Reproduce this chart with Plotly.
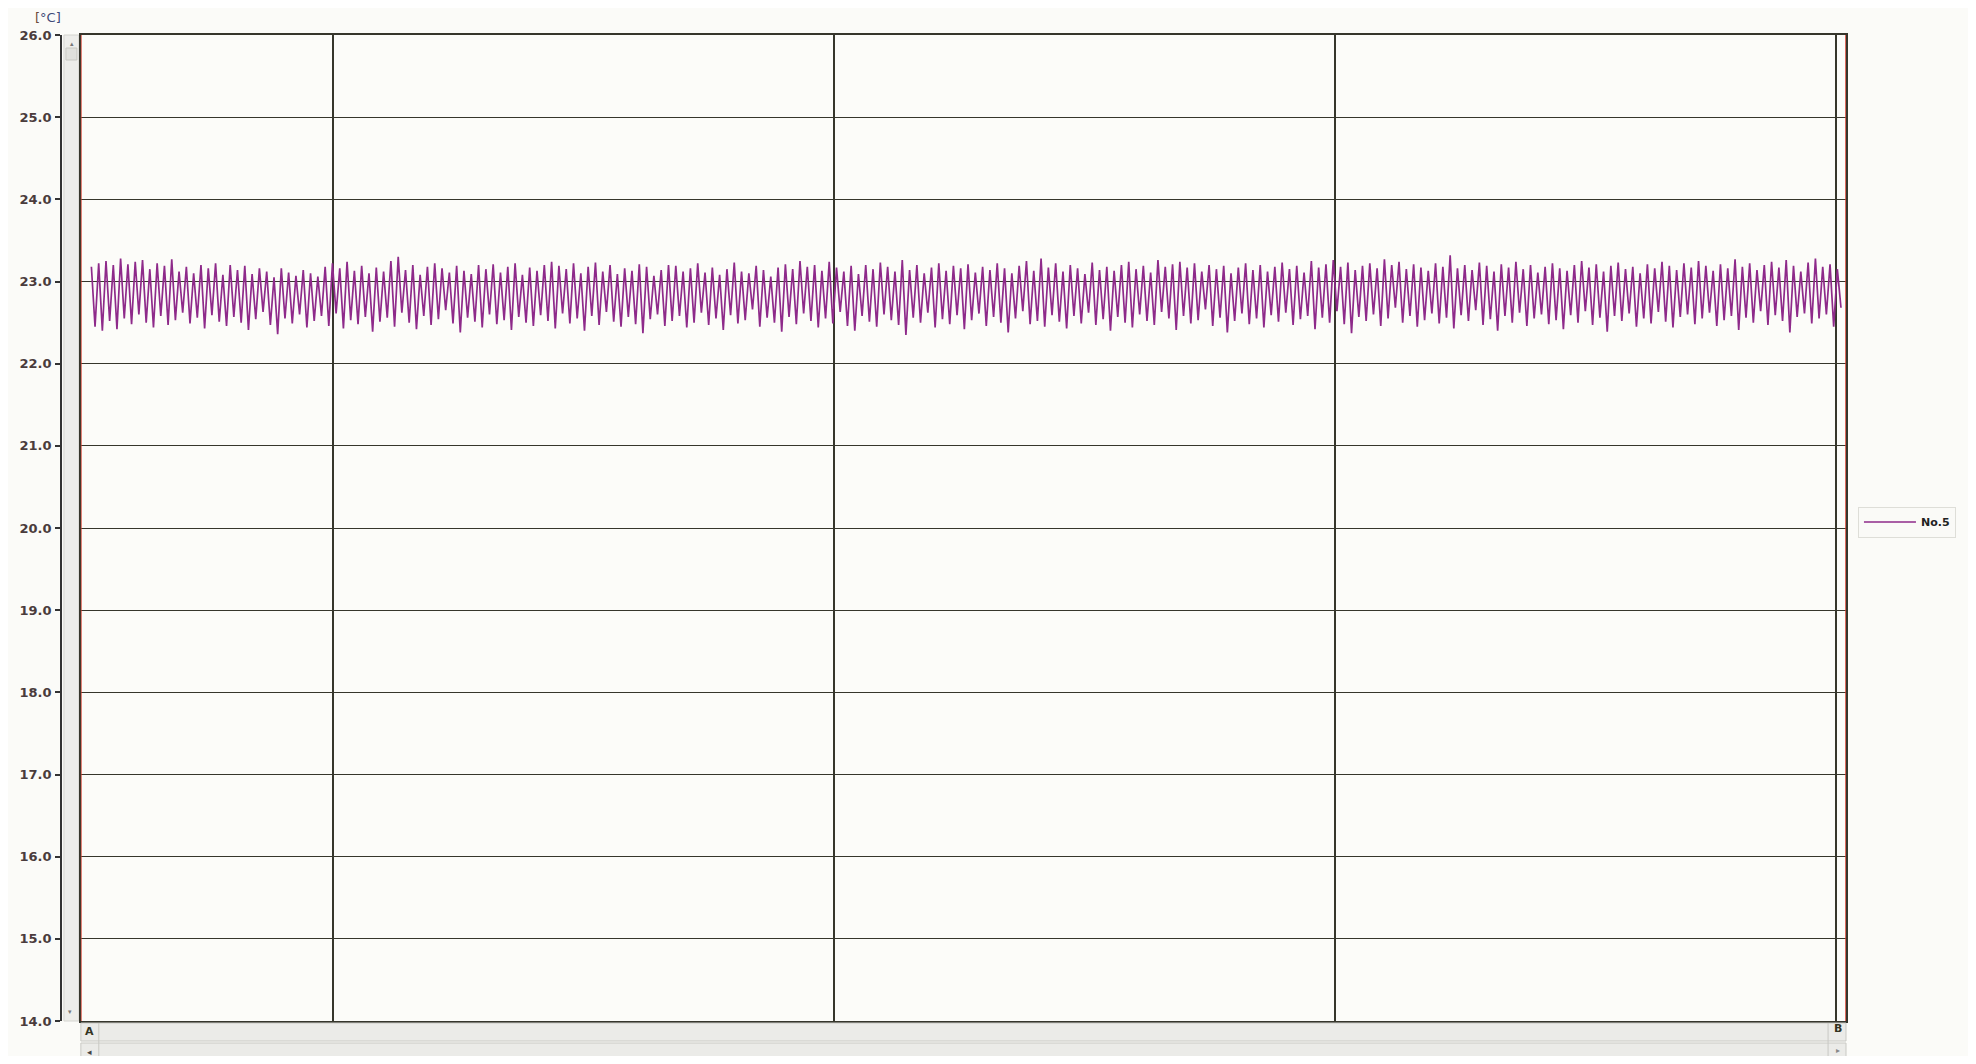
import plotly.graph_objects as go

# ---------------- data ----------------
y_ticks = [14.0, 15.0, 16.0, 17.0, 18.0, 19.0, 20.0, 21.0, 22.0, 23.0, 24.0, 25.0, 26.0]
x_grid = [0.5, 1.5, 2.5, 3.5]
cursor_A = -0.004
cursor_B = 3.52
series_name = "No.5"
unit_label = "[°C]"

peaks = [
    23.18, 23.22, 23.25, 23.20, 23.28, 23.21, 23.24, 23.26, 23.15, 23.22, 23.19, 23.27, 23.12, 23.18, 23.10, 23.20, 23.16, 23.22, 23.08, 23.20,
    23.14, 23.19, 23.09, 23.16, 23.12, 23.05, 23.16, 23.11, 23.07, 23.14, 23.10, 23.06, 23.18, 23.22, 23.16, 23.24, 23.13, 23.19, 23.10, 23.17,
    23.12, 23.25, 23.30, 23.14, 23.20, 23.08, 23.18, 23.22, 23.16, 23.11, 23.19, 23.13, 23.09, 23.20, 23.15, 23.21, 23.11, 23.18, 23.22, 23.08,
    23.17, 23.13, 23.20, 23.24, 23.19, 23.15, 23.22, 23.10, 23.18, 23.23, 23.12, 23.20, 23.09, 23.16, 23.13, 23.21, 23.18, 23.07, 23.14, 23.20,
    23.19, 23.12, 23.16, 23.22, 23.11, 23.17, 23.08, 23.15, 23.23, 23.12, 23.10, 23.19, 23.14, 23.06, 23.17, 23.21, 23.15, 23.25, 23.18, 23.20,
    23.13, 23.24, 23.17, 23.12, 23.19, 23.09, 23.20, 23.15, 23.23, 23.18, 23.12, 23.26, 23.14, 23.20, 23.10, 23.17, 23.22, 23.13, 23.19, 23.16,
    23.21, 23.11, 23.18, 23.14, 23.22, 23.16, 23.10, 23.19, 23.25, 23.13, 23.28, 23.17, 23.22, 23.12, 23.20, 23.16, 23.09, 23.23, 23.14, 23.18,
    23.13, 23.20, 23.24, 23.15, 23.19, 23.11, 23.26, 23.18, 23.21, 23.24, 23.17, 23.22, 23.12, 23.20, 23.15, 23.19, 23.10, 23.17, 23.22, 23.14,
    23.20, 23.12, 23.18, 23.23, 23.15, 23.19, 23.11, 23.25, 23.17, 23.21, 23.26, 23.18, 23.23, 23.14, 23.19, 23.22, 23.16, 23.27, 23.20, 23.24,
    23.15, 23.21, 23.17, 23.13, 23.22, 23.18, 23.32, 23.16, 23.20, 23.14, 23.23, 23.19, 23.12, 23.21, 23.17, 23.24, 23.15, 23.20, 23.11, 23.18,
    23.22, 23.16, 23.13, 23.20, 23.25, 23.17, 23.21, 23.12, 23.19, 23.23, 23.15, 23.18, 23.10, 23.21, 23.16, 23.24, 23.19, 23.14, 23.22, 23.17,
    23.25, 23.19, 23.13, 23.21, 23.16, 23.27, 23.18, 23.22, 23.14, 23.20, 23.24, 23.17, 23.26, 23.19, 23.12, 23.23, 23.28, 23.18, 23.21, 23.15,
]

troughs = [
    22.45, 22.40, 22.52, 22.42, 22.55, 22.48, 22.60, 22.50, 22.44, 22.58, 22.47, 22.53, 22.62, 22.49, 22.56, 22.43, 22.59, 22.51, 22.46, 22.57,
    22.50, 22.41, 22.54, 22.63, 22.47, 22.36, 22.55, 22.49, 22.60, 22.44, 22.52, 22.58, 22.46, 22.61, 22.43, 22.53, 22.48, 22.57, 22.39, 22.51,
    22.56, 22.45, 22.62, 22.50, 22.42, 22.58, 22.47, 22.54, 22.65, 22.49, 22.38, 22.56, 22.51, 22.44, 22.60, 22.48, 22.53, 22.41, 22.57, 22.50,
    22.46, 22.59, 22.52, 22.43, 22.61, 22.49, 22.55, 22.40, 22.58, 22.47, 22.63, 22.51, 22.45, 22.57, 22.48, 22.37, 22.54, 22.60, 22.46, 22.52,
    22.58, 22.44, 22.50, 22.62, 22.47, 22.55, 22.41, 22.59, 22.49, 22.53, 22.66, 22.45, 22.56, 22.50, 22.39, 22.57, 22.48, 22.61, 22.52, 22.44,
    22.55, 22.49, 22.63, 22.46, 22.40, 22.58, 22.51, 22.45, 22.60, 22.53, 22.47, 22.35, 22.56, 22.50, 22.62, 22.44, 22.54, 22.48, 22.59, 22.42,
    22.53, 22.61, 22.46, 22.57, 22.50, 22.38, 22.55, 22.64, 22.48, 22.52, 22.45, 22.59, 22.51, 22.43, 22.58, 22.49, 22.62, 22.47, 22.54, 22.40,
    22.57, 22.50, 22.44, 22.60, 22.52, 22.47, 22.63, 22.55, 22.41, 22.58, 22.49, 22.53, 22.66, 22.46, 22.56, 22.38, 22.52, 22.61, 22.48, 22.55,
    22.44, 22.59, 22.51, 22.62, 22.47, 22.54, 22.58, 22.42, 22.56, 22.50, 22.64, 22.48, 22.37, 22.57, 22.52, 22.60, 22.46, 22.55, 22.68, 22.50,
    22.58, 22.45, 22.53, 22.61, 22.49, 22.56, 22.43, 22.59, 22.52, 22.65, 22.47, 22.54, 22.40, 22.58, 22.50, 22.62, 22.46, 22.55, 22.60, 22.48,
    22.53, 22.42, 22.59, 22.50, 22.64, 22.47, 22.56, 22.39, 22.58, 22.52, 22.61, 22.45, 22.55, 22.49, 22.63, 22.51, 22.44, 22.57, 22.60, 22.48,
    22.55, 22.62, 22.46, 22.53, 22.58, 22.41, 22.56, 22.50, 22.64, 22.47, 22.59, 22.52, 22.38, 22.57, 22.61, 22.49, 22.55, 22.60, 22.45, 22.68,
]

# time axis (arbitrary units; one grid division = 1.0)
t_start = 0.017
t_end = 3.51

# ---------------- build ----------------
temps = []
for p, q in zip(peaks, troughs):
    temps.append(p)
    temps.append(q)
n = len(temps)
step = (t_end - t_start) / (n - 1)
times = [t_start + i * step for i in range(n)]

OFF = 8  # page body margin
W, H = 1960, 1048
ML, MR, MT, MB = 32, 122, 27, 35
pw = W - ML - MR
ph = H - MT - MB


def px_x(px):
    return (px - OFF - ML) / pw


def px_y(py):
    return (H - MB - (py - OFF)) / ph


fig = go.Figure()
fig.add_trace(go.Scatter(
    x=times, y=temps, mode="lines", name=series_name,
    line=dict(color="#8e2a8a", width=1.7),
))
# invisible trace that carries the outer (scale) y axis
fig.add_trace(go.Scatter(
    x=times, y=temps, mode="lines", yaxis="y2", showlegend=False,
    opacity=0, hoverinfo="skip", line=dict(width=0.1),
))

grid_col = "#36362c"

fig.update_layout(
    width=W, height=H,
    margin=dict(l=ML, r=MR, t=MT, b=MB),
    paper_bgcolor="#fbfbf8",
    plot_bgcolor="#fcfcf9",
    showlegend=True,
    legend=dict(
        x=px_x(1858), y=px_y(522), xanchor="left", yanchor="middle",
        bgcolor="#fafaf7", bordercolor="#deded8", borderwidth=1,
        font=dict(family="DejaVu Sans", size=11, color="#222222", weight="bold"),
        itemwidth=52,
    ),
    xaxis=dict(
        domain=[px_x(74), 1.0],
        range=[cursor_A, cursor_B],
        tickvals=x_grid, showticklabels=False, ticks="",
        showgrid=True, gridcolor=grid_col, gridwidth=1.5,
        zeroline=False, showline=True, linecolor=grid_col, linewidth=1.5, mirror=True,
    ),
    yaxis=dict(
        range=[y_ticks[0], y_ticks[-1]],
        tickvals=y_ticks, showticklabels=False, ticks="",
        showgrid=True, gridcolor=grid_col, gridwidth=1.3,
        zeroline=False, showline=True, linecolor=grid_col, linewidth=1.5, mirror=True,
    ),
    yaxis2=dict(
        overlaying="y", anchor="free", position=px_x(54), side="left",
        range=[y_ticks[0], y_ticks[-1]],
        tickvals=y_ticks, ticktext=[f"{v:.1f}" for v in y_ticks],
        ticks="outside", ticklen=5, tickwidth=1.5, tickcolor="#333333",
        showgrid=False, zeroline=False, showline=True, linecolor="#333333", linewidth=1.5,
        tickfont=dict(family="DejaVu Sans", size=13, color="#4a3c3c", weight="bold"),
        ticklabelstandoff=1,
    ),
)

shapes = []
# vertical scrollbar between scale and plot
shapes.append(dict(type="rect", xref="paper", yref="paper",
                   x0=px_x(57), x1=px_x(72), y0=0, y1=1,
                   fillcolor="#ededea", line=dict(color="#d4d4cf", width=1), layer="below"))
shapes.append(dict(type="rect", xref="paper", yref="paper",
                   x0=px_x(59), x1=px_x(70), y0=px_y(60), y1=px_y(48),
                   fillcolor="#e0e0dc", line=dict(color="#c8c8c2", width=1)))
# bottom scrollbar
shapes.append(dict(type="rect", xref="paper", yref="paper",
                   x0=px_x(74), x1=1.0, y0=px_y(1041), y1=px_y(1023),
                   fillcolor="#ebebe8", line=dict(color="#c9c9c4", width=1)))
shapes.append(dict(type="rect", xref="paper", yref="paper",
                   x0=px_x(74), x1=1.0, y0=px_y(1060), y1=px_y(1043),
                   fillcolor="#ebebe8", line=dict(color="#c9c9c4", width=1)))
shapes.append(dict(type="line", xref="paper", yref="paper",
                   x0=px_x(92), x1=px_x(92), y0=px_y(1060), y1=px_y(1023),
                   line=dict(color="#c9c9c4", width=1)))
shapes.append(dict(type="line", xref="paper", yref="paper",
                   x0=px_x(1828), x1=px_x(1828), y0=px_y(1060), y1=px_y(1023),
                   line=dict(color="#c9c9c4", width=1)))
# cursor lines A and B (red)
for cx in [cursor_A, cursor_B]:
    shapes.append(dict(type="line", xref="x", yref="paper",
                       x0=cx, x1=cx, y0=0, y1=1,
                       line=dict(color="#d23a2a", width=1.5)))
fig.update_layout(shapes=shapes)

annotations = [
    dict(xref="paper", yref="paper", x=px_x(41), y=px_y(17), xanchor="center", yanchor="middle",
         text='<span style="color:#6b4a3a">[</span><span style="color:#3d4a78">°C]</span>',
         showarrow=False, font=dict(family="DejaVu Sans", size=13)),
    dict(xref="paper", yref="paper", x=px_x(83), y=px_y(1032), xanchor="center", yanchor="middle",
         text="<b>A</b>", showarrow=False, font=dict(family="DejaVu Sans", size=11, color="#333322")),
    dict(xref="paper", yref="paper", x=px_x(1838), y=px_y(1028), xanchor="center", yanchor="middle",
         text="<b>B</b>", showarrow=False, font=dict(family="DejaVu Sans", size=11, color="#333322")),
    dict(xref="paper", yref="paper", x=px_x(83), y=px_y(1052), xanchor="center", yanchor="middle",
         text="◂", showarrow=False, font=dict(family="DejaVu Sans", size=9, color="#444444")),
    dict(xref="paper", yref="paper", x=px_x(1838), y=px_y(1050), xanchor="center", yanchor="middle",
         text="▸", showarrow=False, font=dict(family="DejaVu Sans", size=8, color="#888888")),
    dict(xref="paper", yref="paper", x=px_x(65), y=px_y(44), xanchor="center", yanchor="middle",
         text="▴", showarrow=False, font=dict(family="DejaVu Sans", size=7, color="#777777")),
    dict(xref="paper", yref="paper", x=px_x(63), y=px_y(1012), xanchor="center", yanchor="middle",
         text="▾", showarrow=False, font=dict(family="DejaVu Sans", size=7, color="#777777")),
]
fig.update_layout(annotations=annotations)

fig.write_html("out.html")
